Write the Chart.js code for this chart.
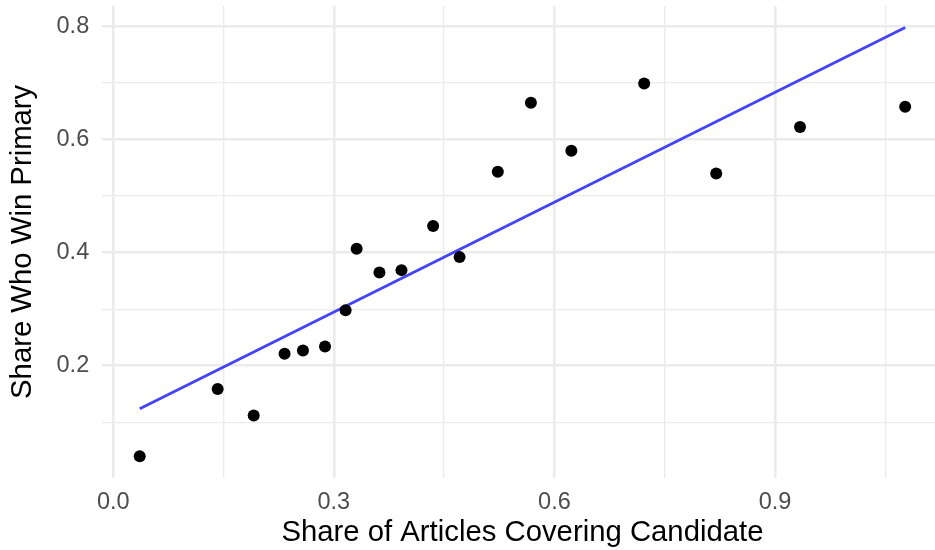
<!DOCTYPE html>
<html>
<head>
<meta charset="utf-8">
<script src="https://cdn.jsdelivr.net/npm/chart.js@4"></script>
<style>
  html, body { margin: 0; padding: 0; background: #fff; overflow: hidden; }
  #wrap { position: relative; width: 950px; height: 550px; }
</style>
</head>
<body>
<div id="wrap"><canvas id="chart"></canvas></div>
<script>
/* ---------- data ---------- */
const shareArticles = [0.036, 0.142, 0.191, 0.233, 0.258, 0.288, 0.316, 0.331, 0.362, 0.392,
                       0.435, 0.471, 0.523, 0.568, 0.623, 0.722, 0.820, 0.934, 1.077];
const shareWin      = [0.040, 0.159, 0.112, 0.221, 0.227, 0.234, 0.298, 0.407, 0.365, 0.369,
                       0.447, 0.392, 0.543, 0.665, 0.580, 0.699, 0.540, 0.622, 0.658];

// fitted lm line (end points)
const fitX = [0.036, 1.077];
const fitY = [0.124, 0.798];

// axes
const xMajor = [0, 0.3, 0.6, 0.9];
const xLabels = ['0.0', '0.3', '0.6', '0.9'];
const xMinor = [0.15, 0.45, 0.75, 1.05];
const yMajor = [0.2, 0.4, 0.6, 0.8];
const yLabels = ['0.2', '0.4', '0.6', '0.8'];
const yMinor = [0.1, 0.3, 0.5, 0.7];
const xRange = [-0.0157, 1.1287];
const yRange = [0.002, 0.836];

/* ---------- helpers ---------- */
const FONT = "'Liberation Sans', Arial, sans-serif";
const near = (a, b) => Math.abs(a - b) < 1e-6;
const isMajor = (list, v) => list.some(m => near(m, v));
const labelFor = (list, labels, v) => {
  const i = list.findIndex(m => near(m, v));
  return i < 0 ? '' : labels[i];
};
const allTicks = (a, b) => a.concat(b).sort((p, q) => p - q).map(v => ({ value: v }));

const points = shareArticles.map((x, i) => ({ x, y: shareWin[i] }));
const fit = fitX.map((x, i) => ({ x, y: fitY[i] }));

new Chart(document.getElementById('chart'), {
  type: 'scatter',
  data: {
    datasets: [
      {
        data: points,
        backgroundColor: '#000',
        borderWidth: 0,
        pointRadius: 6,
        pointHoverRadius: 6,
      },
      {
        type: 'line',
        data: fit,
        borderColor: '#4343FA',
        borderWidth: 2.8,
        pointRadius: 0,
        fill: false,
        tension: 0,
      },
    ],
  },
  options: {
    responsive: true,
    maintainAspectRatio: false,
    animation: false,
    layout: { padding: { top: 5, right: 6.8, left: 0, bottom: 0 } },
    plugins: { legend: { display: false }, tooltip: { enabled: false } },
    scales: {
      x: {
        type: 'linear',
        min: xRange[0],
        max: xRange[1],
        afterBuildTicks: s => { s.ticks = allTicks(xMajor, xMinor); },
        afterFit: s => { s.height = 72.3; s.paddingLeft = 0; s.paddingRight = 0; },
        border: { display: false },
        grid: {
          drawTicks: false,
          color: '#EBEBEB',
          lineWidth: c => (isMajor(xMajor, c.tick.value) ? 2.6 : 1.3),
        },
        ticks: {
          autoSkip: false,
          maxRotation: 0,
          padding: 11,
          color: '#4D4D4D',
          font: { family: FONT, size: 23.5 },
          callback: v => labelFor(xMajor, xLabels, v),
        },
        title: {
          display: true,
          text: 'Share of Articles Covering Candidate',
          color: '#000',
          font: { family: FONT, size: 29.3, lineHeight: 1.2 },
          padding: { top: 0, bottom: 0 },
        },
      },
      y: {
        type: 'linear',
        min: yRange[0],
        max: yRange[1],
        afterBuildTicks: s => { s.ticks = allTicks(yMajor, yMinor); },
        afterFit: s => { s.width = 101.7; s.paddingTop = 0; s.paddingBottom = 0; },
        border: { display: false },
        grid: {
          drawTicks: false,
          color: '#EBEBEB',
          lineWidth: c => (isMajor(yMajor, c.tick.value) ? 2.6 : 1.3),
        },
        ticks: {
          autoSkip: false,
          padding: 12.5,
          color: '#4D4D4D',
          font: { family: FONT, size: 23.5 },
          callback: v => labelFor(yMajor, yLabels, v),
        },
        title: {
          display: true,
          text: 'Share Who Win Primary',
          color: '#000',
          font: { family: FONT, size: 29.3, lineHeight: 1.2 },
          padding: { top: 5, bottom: 0 },
        },
      },
    },
  },
});
</script>
</body>
</html>
